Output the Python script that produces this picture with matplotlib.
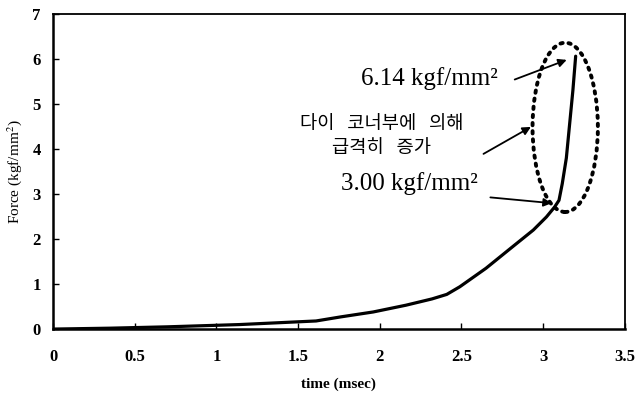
import matplotlib.pyplot as plt
from matplotlib.patches import Ellipse

# force vs time
time = [0.0, 0.35, 0.70, 1.14, 1.61, 1.76, 1.96, 2.16, 2.32, 2.41, 2.49,
        2.65, 2.81, 2.94, 3.02, 3.07, 3.097, 3.117, 3.142, 3.162, 3.182, 3.199]
force = [0.0, 0.02, 0.05, 0.10, 0.18, 0.27, 0.38, 0.53, 0.67, 0.77, 0.94,
         1.35, 1.82, 2.20, 2.49, 2.71, 2.86, 3.23, 3.80, 4.55, 5.30, 6.06]

xticks = [0, 0.5, 1, 1.5, 2, 2.5, 3, 3.5]
xticklabels = ["0", "0.5", "1", "1.5", "2", "2.5", "3", "3.5"]
yticks = [0, 1, 2, 3, 4, 5, 6, 7]

serif = "Liberation Serif"
kor = ["Noto Sans CJK KR", "DejaVu Sans"]
plt.rcParams["mathtext.fontset"] = "stix"

fig = plt.figure(figsize=(6.35, 3.96), dpi=100)
ax = fig.add_axes([0.0835, 0.169, 0.9005, 0.796])

ax.plot(time, force, color="black", lw=2.3, solid_capstyle="round",
        solid_joinstyle="round")

ax.set_xlim(0, 3.5)
ax.set_ylim(0, 7)
ax.set_xticks(xticks)
ax.set_xticklabels(xticklabels)
ax.set_yticks(yticks)
ax.tick_params(direction="in", length=4, width=1, pad=14, labelsize=12)
ax.tick_params(axis="y", pad=9)
for lab in ax.get_xticklabels() + ax.get_yticklabels():
    lab.set_family(serif)
    lab.set_fontweight("bold")

for s in ["left", "bottom"]:
    ax.spines[s].set_linewidth(1.8)
for s in ["top", "right"]:
    ax.spines[s].set_linewidth(1.3)

ax.set_xlabel("time (msec)", family=serif, fontweight="bold", fontsize=11, labelpad=9)
ax.set_ylabel("Force (kgf/mm$^2$)", family=serif, fontsize=11, labelpad=6)

# dotted ellipse round the steep part
ax.add_patch(Ellipse((3.135, 4.48), 0.40, 3.76, fill=False, ls=(0, (0.6, 1.5)),
                     lw=2.8, color="black", capstyle="round"))

arrow = dict(arrowstyle="-|>", color="black", lw=1.3, mutation_scale=12)
ax.annotate("", xy=(3.16, 6.0), xytext=(2.81, 5.52), arrowprops=arrow)
ax.annotate("", xy=(2.94, 4.52), xytext=(2.62, 3.86), arrowprops=arrow)
ax.annotate("", xy=(3.07, 2.79), xytext=(2.66, 2.93), arrowprops=arrow)

ax.text(2.72, 5.57, "6.14 kgf/mm²", family=serif, fontsize=18, ha="right", va="center")
ax.text(2.60, 3.24, "3.00 kgf/mm²", family=serif, fontsize=18, ha="right", va="center")
ax.text(2.012, 4.30, "다이   코너부에   의해\n급격히   증가", family=kor,
        fontsize=13.5, ha="center", va="center", linespacing=1.15)

plt.savefig("out.png", dpi=100)
